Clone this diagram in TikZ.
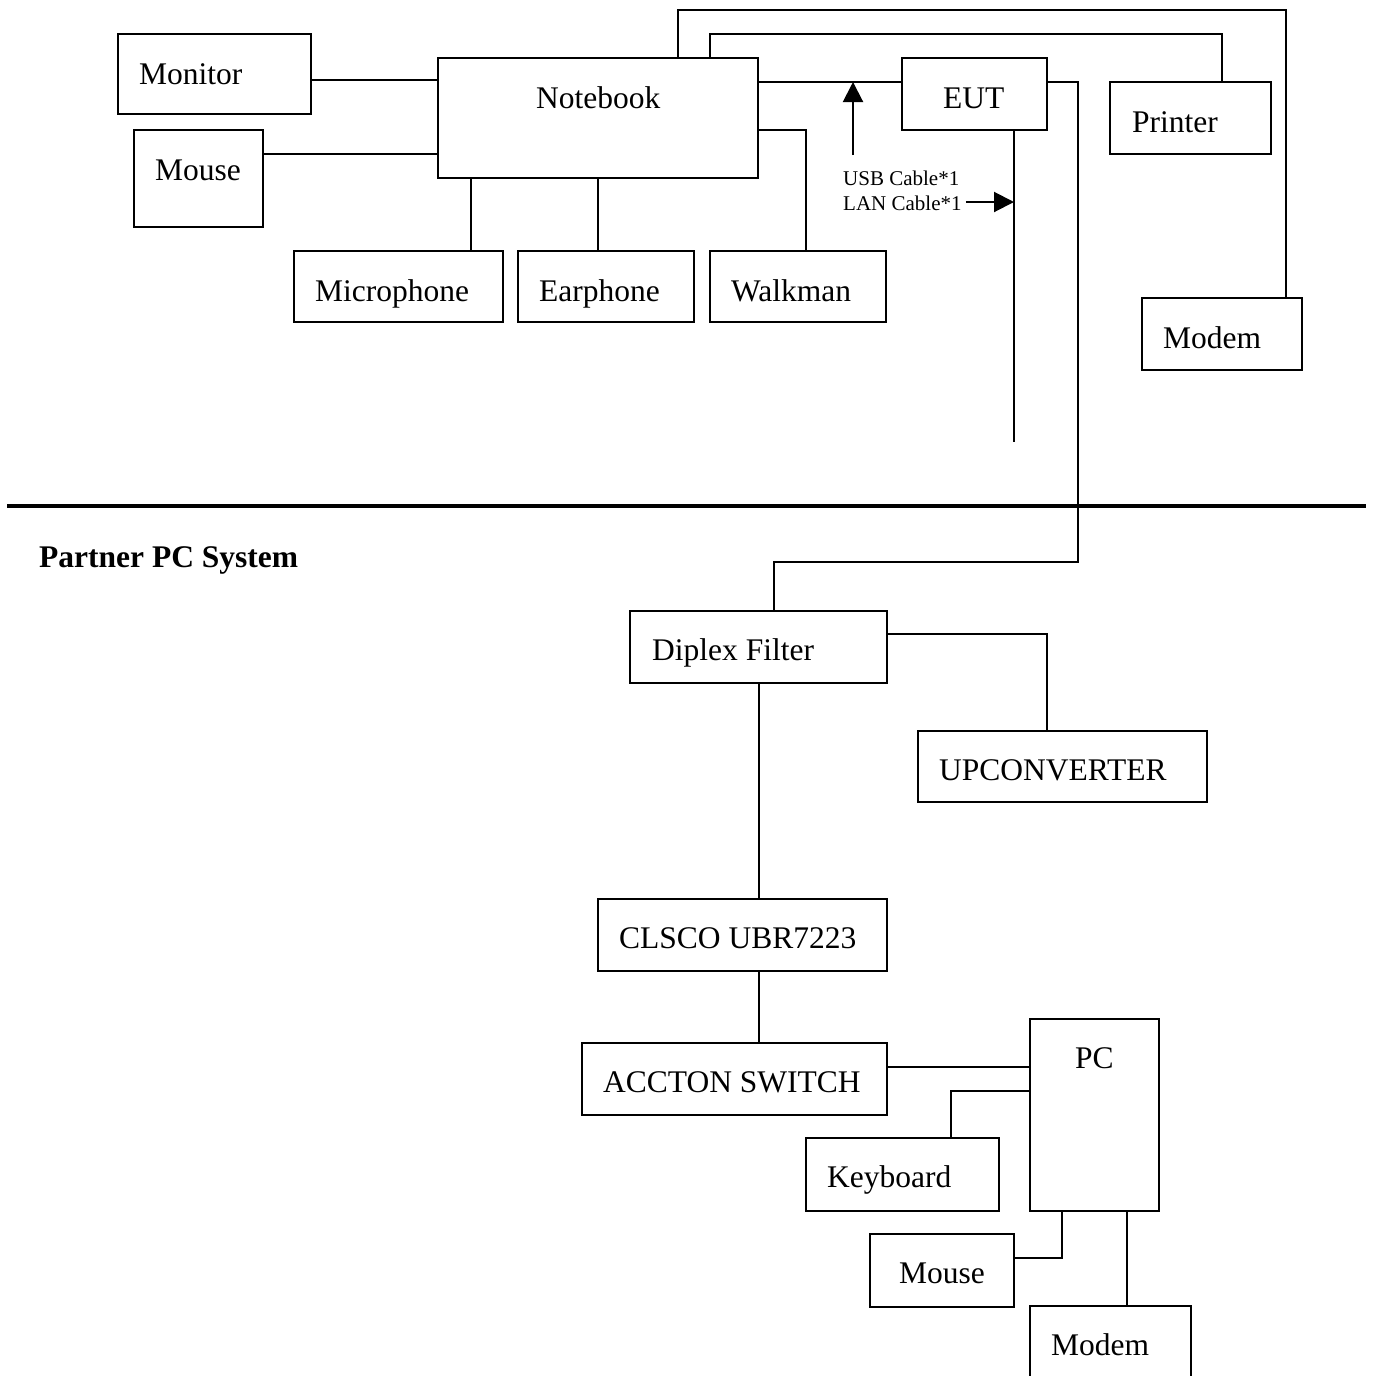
\documentclass[tikz,border=0pt]{standalone}
\usepackage{fontspec}
\setmainfont{Liberation Serif}
\usetikzlibrary{arrows.meta,calc}
\tikzset{
  box/.style={draw, line width=2pt, inner sep=0pt, outer sep=0pt, anchor=north west},
  txt/.style={anchor=base west, inner sep=0pt, font=\fontsize{31.5}{36}\selectfont},
  small/.style={anchor=base west, inner sep=0pt, font=\fontsize{21}{24}\selectfont},
  head/.style={anchor=base west, inner sep=0pt, font=\fontsize{31.5}{36}\selectfont\bfseries},
  wire/.style={line width=2pt},
  sep/.style={line width=4pt},
  cablearrow/.style={line width=2pt, -{Triangle[length=20pt,width=20pt]}},
}
\begin{document}
\begin{tikzpicture}[x=1pt,y=-1pt]
\useasboundingbox (0,0) rectangle (1374,1376);
\clip (0,0) rectangle (1374,1376);
\fill[white] (0,0) rectangle (1374,1376);

% ---------- upper boxes ----------
\node[box, minimum width=193pt, minimum height=80pt] (mon) at (118,34) {};
\node[txt] (tmon) at (139,84) {Monitor};
\node[box, minimum width=129pt, minimum height=97pt] (mou1) at (134,130) {};
\node[txt] (tmou1) at (155,180) {Mouse};
\node[box, minimum width=320pt, minimum height=120pt] (nb) at (438,58) {};
\node[txt] (tnb) at (536,108) {Notebook};
\node[box, minimum width=209pt, minimum height=71pt] (mic) at (294,251) {};
\node[txt] (tmic) at (315,301) {Microphone};
\node[box, minimum width=176pt, minimum height=71pt] (ear) at (518,251) {};
\node[txt] (tear) at (539,301) {Earphone};
\node[box, minimum width=176pt, minimum height=71pt] (walk) at (710,251) {};
\node[txt] (twalk) at (731,301) {Walkman};
\node[box, minimum width=145pt, minimum height=72pt] (eut) at (902,58) {};
\node[txt] (teut) at (943,108) {EUT};
\node[box, minimum width=161pt, minimum height=72pt] (prn) at (1110,82) {};
\node[txt] (tprn) at (1132,132) {Printer};
\node[box, minimum width=160pt, minimum height=72pt] (mod1) at (1142,298) {};
\node[txt] (tmod1) at (1163,348) {Modem};

% ---------- upper connectors ----------
\draw[wire] (mon.east |- 0,80) -- (nb.west |- 0,80);
\draw[wire] (mou1.east |- 0,154) -- (nb.west |- 0,154);
\draw[wire] (nb.south -| 471,0) -- (mic.north -| 471,0);
\draw[wire] (nb.south -| 598,0) -- (ear.north -| 598,0);
\draw[wire] (nb.east |- 0,130) -| (walk.north -| 806,0);
\draw[wire] (nb.east |- 0,82) -- (eut.west |- 0,82);
\draw[wire] (nb.north -| 678,0) -- (678,10) -| (mod1.north -| 1286,0);
\draw[wire] (nb.north -| 710,0) -- (710,34) -| (prn.north -| 1222,0);
\coordinate (lanend) at (1014,442);
\draw[wire] (eut.south -| 1014,0) -- (lanend);

% cable labels and arrows
\coordinate (usbtail) at (853,155);
\coordinate (usbtip) at (853,82);
\draw[cablearrow] (usbtail) -- (usbtip);
\node[small] (tusb) at (843,185) {USB Cable*1};
\node[small] (tlan) at (843,210) {LAN Cable*1};
\coordinate (lantip) at (1014,202);
\draw[cablearrow] (tlan.east |- 0,202) ++(4,0) -- (lantip);

% ---------- separator ----------
\coordinate (sepL) at (7,506);
\coordinate (sepR) at (1366,506);
\draw[sep] (sepL) -- (sepR);
\node[head] (title) at (39,567) {Partner PC System};

% ---------- lower boxes ----------
\node[box, minimum width=257pt, minimum height=72pt] (dip) at (630,611) {};
\node[txt] (tdip) at (652,660) {Diplex Filter};
\node[box, minimum width=289pt, minimum height=71pt] (upc) at (918,731) {};
\node[txt] (tupc) at (939,780) {UPCONVERTER};
\node[box, minimum width=289pt, minimum height=72pt] (cls) at (598,899) {};
\node[txt] (tcls) at (619,948) {CLSCO UBR7223};
\node[box, minimum width=305pt, minimum height=72pt] (acc) at (582,1043) {};
\node[txt] (tacc) at (603,1092) {ACCTON SWITCH};
\node[box, minimum width=129pt, minimum height=192pt] (pc) at (1030,1019) {};
\node[txt] (tpc) at (1075,1068) {PC};
\node[box, minimum width=193pt, minimum height=73pt] (kbd) at (806,1138) {};
\node[txt] (tkbd) at (827,1187) {Keyboard};
\node[box, minimum width=144pt, minimum height=73pt] (mou2) at (870,1234) {};
\node[txt] (tmou2) at (899,1283) {Mouse};
\node[box, minimum width=161pt, minimum height=90pt] (mod2) at (1030,1306) {};
\node[txt] (tmod2) at (1051,1355) {Modem};

% ---------- lower connectors ----------
\draw[wire] (eut.east |- 0,82) -- (1078,82) -- (1078,562) -| (dip.north -| 774,0);
\draw[wire] (dip.east |- 0,634) -| (upc.north -| 1047,0);
\draw[wire] (dip.south -| 759,0) -- (cls.north -| 759,0);
\draw[wire] (cls.south -| 759,0) -- (acc.north -| 759,0);
\draw[wire] (acc.east |- 0,1067) -- (pc.west |- 0,1067);
\draw[wire] (kbd.north -| 951,0) |- (pc.west |- 0,1091);
\draw[wire] (mou2.east |- 0,1258) -| (pc.south -| 1062,0);
\draw[wire] (pc.south -| 1127,0) -- (mod2.north -| 1127,0);
\end{tikzpicture}
\end{document}
